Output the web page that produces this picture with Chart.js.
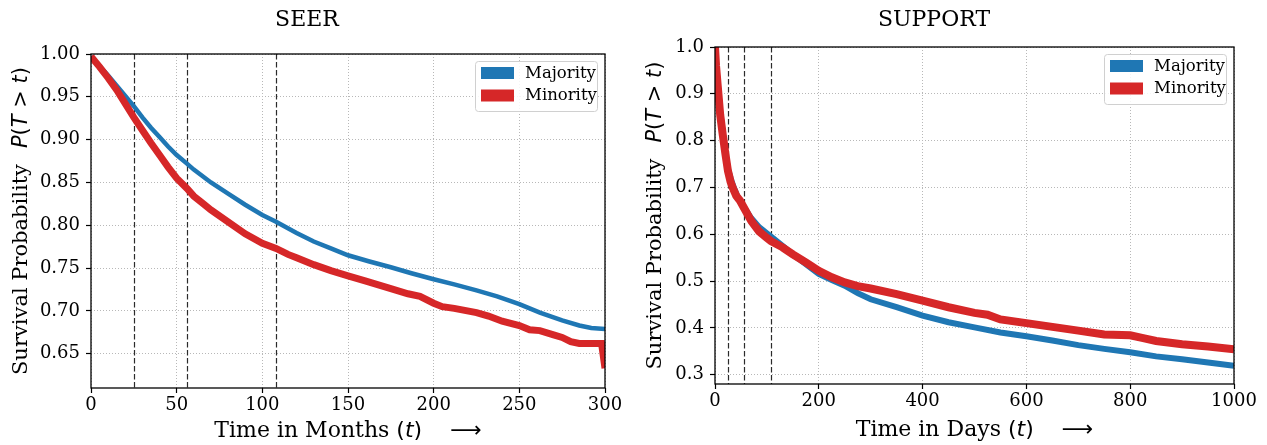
<!DOCTYPE html>
<html>
<head>
<meta charset="utf-8">
<script src="https://cdn.jsdelivr.net/npm/chart.js@4.4.1/dist/chart.umd.min.js"></script>
<style>
html, body { margin: 0; padding: 0; background: #fff; }
#wrap { position: relative; width: 1267px; height: 445px; }
canvas { position: absolute; top: 0; }
</style>
</head>
<body>
<div id="wrap">
  <canvas id="seer" width="633" height="445" style="left:0px"></canvas>
  <canvas id="support" width="634" height="445" style="left:633px"></canvas>
</div>
<script>
// ---- data ----
var seriesNames = ["Majority", "Minority"];

var seerXTicks = [0, 50, 100, 150, 200, 250, 300];
var seerYTicks = [0.65, 0.70, 0.75, 0.80, 0.85, 0.90, 0.95, 1.00];
var seerCuts = [25, 56, 108];

var seerMajorityT = [0, 5, 10, 15, 20, 25, 30, 35, 40, 45, 50, 56, 60, 70, 80, 90, 100, 108, 120, 130, 140, 150, 162, 175, 187, 200, 212, 225, 237, 250, 262, 275, 285, 292, 300];
var seerMajorityS = [0.997, 0.986, 0.975, 0.963, 0.951, 0.939, 0.926, 0.914, 0.903, 0.892, 0.882, 0.872, 0.865, 0.850, 0.837, 0.824, 0.812, 0.804, 0.791, 0.781, 0.773, 0.765, 0.758, 0.751, 0.744, 0.737, 0.731, 0.724, 0.717, 0.708, 0.698, 0.689, 0.683, 0.680, 0.679];

var seerMinorityT = [0, 5, 10, 15, 20, 25, 30, 35, 40, 45, 50, 56, 60, 65, 70, 80, 90, 100, 108, 115, 120, 130, 140, 150, 160, 175, 185, 192, 200, 205, 212, 225, 232, 240, 250, 256, 262, 270, 275, 280, 285, 298, 300];
var seerMinorityS = [0.997, 0.985, 0.972, 0.958, 0.942, 0.926, 0.911, 0.896, 0.882, 0.868, 0.855, 0.843, 0.834, 0.826, 0.818, 0.804, 0.790, 0.779, 0.773, 0.766, 0.762, 0.754, 0.747, 0.741, 0.735, 0.726, 0.720, 0.717, 0.709, 0.705, 0.703, 0.698, 0.694, 0.688, 0.683, 0.678, 0.677, 0.672, 0.669, 0.664, 0.662, 0.662, 0.633];

var supportXTicks = [0, 200, 400, 600, 800, 1000];
var supportYTicks = [0.3, 0.4, 0.5, 0.6, 0.7, 0.8, 0.9, 1.0];
var supportCuts = [25, 56, 108];

var supportMajorityT = [0, 2, 5, 10, 15, 20, 25, 30, 35, 45, 56, 70, 85, 100, 108, 130, 150, 175, 200, 225, 250, 275, 300, 350, 400, 450, 500, 550, 600, 650, 700, 750, 800, 850, 900, 950, 1000];
var supportMajorityS = [1.0, 0.96, 0.925, 0.862, 0.817, 0.775, 0.740, 0.720, 0.703, 0.676, 0.657, 0.634, 0.615, 0.602, 0.595, 0.575, 0.557, 0.536, 0.515, 0.502, 0.490, 0.474, 0.461, 0.444, 0.426, 0.412, 0.401, 0.390, 0.382, 0.373, 0.363, 0.355, 0.348, 0.339, 0.333, 0.326, 0.319];

var supportMinorityT = [0, 2, 5, 10, 15, 20, 25, 30, 35, 41, 48, 56, 70, 85, 100, 108, 130, 150, 175, 200, 225, 250, 275, 300, 350, 400, 450, 500, 525, 550, 600, 650, 700, 750, 800, 825, 850, 900, 950, 1000];
var supportMinorityS = [1.0, 0.96, 0.92, 0.855, 0.812, 0.772, 0.735, 0.712, 0.697, 0.682, 0.672, 0.656, 0.628, 0.606, 0.592, 0.585, 0.572, 0.557, 0.540, 0.522, 0.508, 0.497, 0.489, 0.484, 0.472, 0.458, 0.444, 0.432, 0.428, 0.418, 0.410, 0.402, 0.394, 0.386, 0.384, 0.378, 0.372, 0.365, 0.360, 0.354];

var blue = "#1f77b4";
var red = "#d62728";
var serif = "'DejaVu Serif', serif";
var sans = "'DejaVu Sans', sans-serif";

function toPoints(ts, ss) {
    var pts = [];
    for (var i = 0; i < ts.length; i++) {
        pts.push({ x: ts[i], y: ss[i] });
    }
    return pts;
}

// draws a line of text made of differently styled pieces, centred on (x, baseline y)
function drawPieces(ctx, pieces, x, y, rotate) {
    ctx.save();
    ctx.translate(x, y);
    if (rotate) ctx.rotate(-Math.PI / 2);
    var total = 0;
    pieces.forEach(function (p) {
        ctx.font = p.font;
        p.w = p.gap != null ? p.gap : ctx.measureText(p.text).width;
        total += p.w;
    });
    var cx = -total / 2;
    ctx.textAlign = "left";
    ctx.textBaseline = "alphabetic";
    ctx.fillStyle = "#000";
    pieces.forEach(function (p) {
        if (p.text) {
            ctx.font = p.font;
            ctx.fillText(p.text, cx, 0);
        }
        cx += p.w;
    });
    ctx.restore();
}

function roundBox(ctx, x, y, w, h, r) {
    ctx.beginPath();
    ctx.moveTo(x + r, y);
    ctx.lineTo(x + w - r, y);
    ctx.arcTo(x + w, y, x + w, y + r, r);
    ctx.lineTo(x + w, y + h - r);
    ctx.arcTo(x + w, y + h, x + w - r, y + h, r);
    ctx.lineTo(x + r, y + h);
    ctx.arcTo(x, y + h, x, y + h - r, r);
    ctx.lineTo(x, y + r);
    ctx.arcTo(x, y, x + r, y, r);
    ctx.closePath();
}

function extras(o) {
    return {
        id: "extras",
        beforeDatasetsDraw: function (chart) {
            var ctx = chart.ctx, a = chart.chartArea, x = chart.scales.x;
            ctx.save();
            ctx.strokeStyle = "#2b2b2b";
            ctx.lineWidth = 1.2;
            ctx.setLineDash([5.5, 2.5]);
            o.cuts.forEach(function (c) {
                var px = Math.round(x.getPixelForValue(c)) + 0.5;
                ctx.beginPath();
                ctx.moveTo(px, a.top);
                ctx.lineTo(px, a.bottom);
                ctx.stroke();
            });
            ctx.restore();
        },
        afterDraw: function (chart) {
            var ctx = chart.ctx, a = chart.chartArea;
            ctx.save();
            // frame on all four sides
            ctx.strokeStyle = "#000";
            ctx.lineWidth = 1.3;
            ctx.strokeRect(a.left, a.top, a.right - a.left, a.bottom - a.top);

            // legend
            var w = 122, h = 50, x0 = a.right - 8 - w, y0 = a.top + 7;
            roundBox(ctx, x0 + 0.5, y0 + 0.5, w, h, 3);
            ctx.fillStyle = "rgba(255,255,255,0.85)";
            ctx.fill();
            ctx.strokeStyle = "#d0d0d0";
            ctx.lineWidth = 1;
            ctx.stroke();
            chart.data.datasets.forEach(function (ds, i) {
                var ry = y0 + 6 + i * 22.5;
                ctx.fillStyle = ds.borderColor;
                ctx.fillRect(x0 + 6, ry, 33, 12);
                ctx.fillStyle = "#000";
                ctx.font = "16.5px " + serif;
                ctx.textBaseline = "middle";
                ctx.textAlign = "left";
                ctx.fillText(ds.label, x0 + 50, ry + 6.5);
            });
            ctx.restore();

            // title
            ctx.save();
            ctx.font = "22px " + serif;
            ctx.fillStyle = "#000";
            ctx.textAlign = "center";
            ctx.textBaseline = "alphabetic";
            ctx.fillText(o.title, o.titleX, 26);
            ctx.restore();

            // axis titles
            var mid = (a.left + a.right) / 2;
            drawPieces(ctx, [
                { text: o.xWord + " ", font: "22px " + serif },
                { text: "(", font: "22px " + sans },
                { text: "t", font: "italic 22px " + sans },
                { text: ")", font: "22px " + sans },
                { gap: 28 },
                { text: "\u27F6", font: "22px " + sans }
            ], mid, o.xBase, false);
            drawPieces(ctx, [
                { text: "Survival Probability", font: "21px " + serif },
                { gap: 16 },
                { text: "P", font: "italic 21px " + sans },
                { text: "(", font: "21px " + sans },
                { text: "T", font: "italic 21px " + sans },
                { text: " > ", font: "21px " + sans },
                { text: "t", font: "italic 21px " + sans },
                { text: ")", font: "21px " + sans }
            ], o.yBase, (a.top + a.bottom) / 2, true);
        }
    };
}

function makeChart(id, o) {
    var ctx = document.getElementById(id);
    return new Chart(ctx, {
        type: "line",
        data: {
            datasets: [{
                label: seriesNames[0],
                data: toPoints(o.majT, o.majS),
                borderColor: blue,
                backgroundColor: blue,
                borderWidth: o.wBlue,
                pointRadius: 0,
                tension: 0,
                fill: false,
                order: 2
            }, {
                label: seriesNames[1],
                data: toPoints(o.minT, o.minS),
                borderColor: red,
                backgroundColor: red,
                borderWidth: o.wRed,
                pointRadius: 0,
                tension: 0,
                fill: false,
                order: 1
            }]
        },
        options: {
            responsive: false,
            animation: false,
            layout: { padding: { left: 0, right: o.padRight, top: o.top, bottom: 0 } },
            plugins: { legend: { display: false }, tooltip: { enabled: false }, title: { display: false } },
            scales: {
                x: {
                    type: "linear",
                    min: o.xMin, max: o.xMax,
                    afterBuildTicks: function (s) { s.ticks = o.xTicks.map(function (v) { return { value: v }; }); },
                    afterFit: function (s) { s.height = 445 - o.bottom; },
                    ticks: {
                        font: { family: "DejaVu Serif", size: 18 },
                        color: "#000",
                        padding: 2,
                        maxRotation: 0,
                        callback: function (v) { return String(v); }
                    },
                    grid: { color: "#b8b8b8", lineWidth: 1, tickColor: "#000", tickLength: 5, tickWidth: 1.2, borderDash: [1, 2] },
                    border: { display: false, dash: [1, 2] }
                },
                y: {
                    type: "linear",
                    min: o.yMin, max: o.yMax,
                    afterBuildTicks: function (s) { s.ticks = o.yTicks.map(function (v) { return { value: v }; }); },
                    afterFit: function (s) { s.width = o.left; },
                    ticks: {
                        font: { family: "DejaVu Serif", size: 18 },
                        color: "#000",
                        padding: 6,
                        callback: function (v) { return Number(v).toFixed(o.dec); }
                    },
                    grid: { color: "#b8b8b8", lineWidth: 1, tickColor: "#000", tickLength: 5, tickWidth: 1.2, borderDash: [1, 2] },
                    border: { display: false, dash: [1, 2] }
                }
            }
        },
        plugins: [extras(o)]
    });
}

makeChart("seer", {
    majT: seerMajorityT, majS: seerMajorityS,
    minT: seerMinorityT, minS: seerMinorityS,
    xTicks: seerXTicks, yTicks: seerYTicks, cuts: seerCuts,
    xMin: 0, xMax: 300, yMin: 0.61, yMax: 1.0, dec: 2,
    left: 91, top: 54, bottom: 388, padRight: 28,
    wBlue: 4.5, wRed: 7,
    title: "SEER", titleX: 307, xWord: "Time in Months", xBase: 437, yBase: 27
});

makeChart("support", {
    majT: supportMajorityT, majS: supportMajorityS,
    minT: supportMinorityT, minS: supportMinorityS,
    xTicks: supportXTicks, yTicks: supportYTicks, cuts: supportCuts,
    xMin: 0, xMax: 1000, yMin: 0.28, yMax: 1.0, dec: 1,
    left: 82, top: 47, bottom: 384, padRight: 33,
    wBlue: 6, wRed: 8,
    title: "SUPPORT", titleX: 301, xWord: "Time in Days", xBase: 436, yBase: 28
});
</script>
</body>
</html>
